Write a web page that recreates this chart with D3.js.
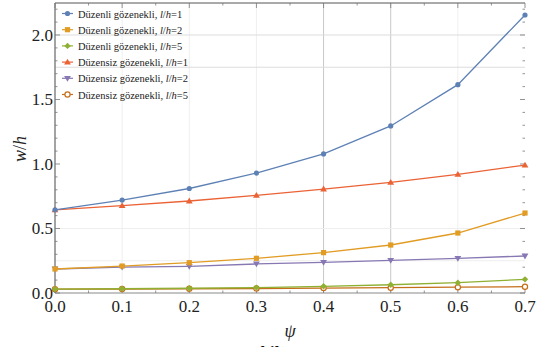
<!DOCTYPE html>
<html><head><meta charset="utf-8">
<script src="https://cdn.jsdelivr.net/npm/d3@7"></script>
<style>body{margin:0;background:#fff}svg{display:block}
svg text{font-family:"Liberation Serif","Times New Roman",Times,"DejaVu Serif",serif}</style>
</head><body>
<svg id="c" width="537" height="347"></svg>
<script>
const psi = [0.0, 0.1, 0.2, 0.3, 0.4, 0.5, 0.6, 0.7];
const duzenli1 = [0.645, 0.72, 0.81, 0.93, 1.078, 1.295, 1.615, 2.155];
const duzenli2 = [0.186, 0.209, 0.235, 0.269, 0.313, 0.372, 0.465, 0.62];
const duzenli5 = [0.03, 0.033, 0.037, 0.042, 0.052, 0.064, 0.08, 0.106];
const duzensiz1 = [0.645, 0.677, 0.713, 0.757, 0.806, 0.858, 0.92, 0.992];
const duzensiz2 = [0.186, 0.2, 0.207, 0.225, 0.238, 0.253, 0.269, 0.287];
const duzensiz5 = [0.03, 0.031, 0.033, 0.035, 0.038, 0.041, 0.045, 0.049];
const seriesNames = ["Düzenli gözenekli, ", "Düzenli gözenekli, ", "Düzenli gözenekli, ",
                     "Düzensiz gözenekli, ", "Düzensiz gözenekli, ", "Düzensiz gözenekli, "];
const seriesLh = ["1", "2", "5", "1", "2", "5"];
const xTicks = [0.0, 0.1, 0.2, 0.3, 0.4, 0.5, 0.6, 0.7];
const yTicks = [0.0, 0.5, 1.0, 1.5, 2.0];

const seriesValues = [duzenli1, duzenli2, duzenli5, duzensiz1, duzensiz2, duzensiz5];
const colors = ["#5E81B5", "#E19C24", "#8FB032", "#EB6235", "#8778B3", "#C56E1A"];
const markers = ["circle", "square", "diamond", "tri", "triDown", "open"];

const svg = d3.select("#c");
const L = 55, R = 525, T = 3, B = 293;
const x = d3.scaleLinear().domain([0, 0.7]).range([L, R]);
const y = d3.scaleLinear().domain([0, 2.248]).range([B, T]);

// grid
const g = svg.append("g");
d3.range(0.1, 0.7, 0.1).forEach(v => {
  const strong = Math.abs(v - 0.4) < 1e-6 || Math.abs(v - 0.5) < 1e-6;
  g.append("line").attr("x1", x(v)).attr("x2", x(v)).attr("y1", T).attr("y2", B)
    .attr("stroke", strong ? "#c8c8c8" : "#efefef").attr("stroke-width", 1);
});
[[2.0, "#dcdcdc"], [1.75, "#dcdcdc"], [0.5, "#eeeeee"], [0.25, "#eeeeee"]].forEach(([v, c]) => {
  g.append("line").attr("x1", L).attr("x2", R).attr("y1", y(v)).attr("y2", y(v))
    .attr("stroke", c).attr("stroke-width", 1);
});

// frame
svg.append("line").attr("x1", L).attr("x2", R).attr("y1", B).attr("y2", B)
  .attr("stroke", "#c4c4c4").attr("stroke-width", 2);
svg.append("line").attr("x1", L).attr("x2", R).attr("y1", T).attr("y2", T)
  .attr("stroke", "#555").attr("stroke-width", 1);
svg.append("line").attr("x1", L).attr("x2", L).attr("y1", T).attr("y2", B)
  .attr("stroke", "#666").attr("stroke-width", 1.2);

// ticks
const tk = svg.append("g").attr("stroke", "#777").attr("stroke-width", 0.8);
d3.range(0, 0.7001, 0.05).forEach((v, i) => {
  const major = i % 2 === 0;
  const len = major ? 5 : 2.5;
  tk.append("line").attr("x1", x(v)).attr("x2", x(v)).attr("y1", B).attr("y2", B - len);
  tk.append("line").attr("x1", x(v)).attr("x2", x(v)).attr("y1", T).attr("y2", T + len);
});
d3.range(0, 2.2501, 0.1).forEach((v, i) => {
  const major = i % 5 === 0;
  const len = major ? 5 : 2.5;
  tk.append("line").attr("x1", L).attr("x2", L + len).attr("y1", y(v)).attr("y2", y(v));
  tk.append("line").attr("x1", R).attr("x2", R - len).attr("y1", y(v)).attr("y2", y(v));
});

// tick labels
svg.append("g").selectAll("text").data(xTicks).join("text")
  .attr("x", d => x(d)).attr("y", 312).attr("text-anchor", "middle")
  .attr("font-size", 17).attr("fill", "#222")
  .text(d => d.toFixed(1));
svg.append("g").selectAll("text").data(yTicks).join("text")
  .attr("x", 53).attr("y", d => y(d) + 6).attr("text-anchor", "end")
  .attr("font-size", 17).attr("fill", "#222")
  .text(d => d.toFixed(1));

// axis labels
svg.append("text").attr("x", (L + R) / 2).attr("y", 337).attr("text-anchor", "middle")
  .attr("font-style", "italic").attr("font-size", 18).attr("fill", "#222")
  .text("ψ");
svg.append("text").attr("transform", "translate(26,149) rotate(-90)").attr("text-anchor", "middle")
  .attr("font-size", 18).attr("fill", "#222")
  .html('<tspan font-style="italic">w</tspan>/<tspan font-style="italic">h</tspan>');

// caption (cut off at bottom, as in the reference)
svg.append("text").attr("x", 270).attr("y", 358).attr("text-anchor", "middle")
  .attr("font-weight", "bold").attr("font-size", 17).attr("fill", "#111")
  .text("Şekil 6.");

function drawMarker(sel, type, color, cx, cy) {
  const s = 2.6;
  if (type === "circle") sel.append("circle").attr("cx", cx).attr("cy", cy).attr("r", s).attr("fill", color);
  else if (type === "square") sel.append("rect").attr("x", cx - s).attr("y", cy - s).attr("width", 2 * s).attr("height", 2 * s).attr("fill", color);
  else if (type === "diamond") sel.append("path").attr("d", `M${cx},${cy - 3.2}L${cx + 3.2},${cy}L${cx},${cy + 3.2}L${cx - 3.2},${cy}Z`).attr("fill", color);
  else if (type === "tri") sel.append("path").attr("d", `M${cx},${cy - 3.4}L${cx + 3.4},${cy + 2.4}L${cx - 3.4},${cy + 2.4}Z`).attr("fill", color);
  else if (type === "triDown") sel.append("path").attr("d", `M${cx},${cy + 3.4}L${cx + 3.4},${cy - 2.4}L${cx - 3.4},${cy - 2.4}Z`).attr("fill", color);
  else if (type === "open") sel.append("circle").attr("cx", cx).attr("cy", cy).attr("r", 2.6).attr("fill", "#fff").attr("stroke", color).attr("stroke-width", 1.2);
}

// series
const line = d3.line().x(d => x(d[0])).y(d => y(d[1]));
const order = [5, 2, 4, 1, 3, 0];
order.forEach(i => {
  const pts = psi.map((p, k) => [p, seriesValues[i][k]]);
  const sg = svg.append("g");
  sg.append("path").attr("d", line(pts)).attr("fill", "none")
    .attr("stroke", colors[i]).attr("stroke-width", 1.3);
  pts.forEach(p => drawMarker(sg, markers[i], colors[i], x(p[0]), y(p[1])));
});

// legend
const lg = svg.append("g");
seriesValues.forEach((s, i) => {
  const yy = 13.5 + i * 16.2;
  lg.append("line").attr("x1", 62).attr("x2", 73).attr("y1", yy).attr("y2", yy)
    .attr("stroke", colors[i]).attr("stroke-width", 1.2);
  drawMarker(lg, markers[i], colors[i], 67.5, yy);
  lg.append("text").attr("x", 78).attr("y", yy + 4)
    .attr("font-size", 10.5).attr("fill", "#222")
    .html(seriesNames[i] + '<tspan font-style="italic">l</tspan>/<tspan font-style="italic">h</tspan>=' + seriesLh[i]);
});
</script>
</body></html>
